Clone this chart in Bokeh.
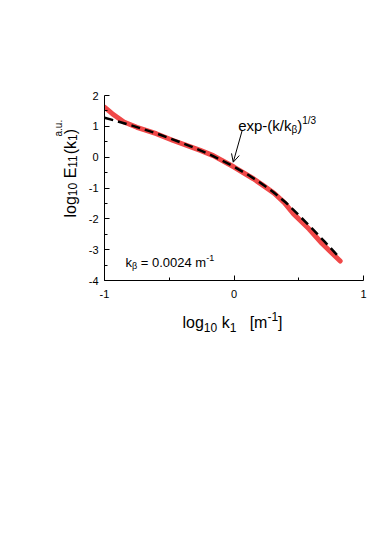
import math
from bokeh.plotting import figure
from bokeh.layouts import row, column
from bokeh.models import (Range1d, FixedTicker, Label, Arrow, OpenHead, LinearAxis,
                          PrintfTickFormatter)
from bokeh.embed import file_html
from bokeh.resources import INLINE

# ---- data ----
x_spec = [-1.0, -0.94, -0.85, -0.75, -0.6, -0.47, -0.26, -0.16, 0.0, 0.15, 0.23, 0.31, 0.39, 0.46, 0.58, 0.68, 0.82]
y_spec = [1.62, 1.41, 1.14, 0.97, 0.76, 0.54, 0.22, 0.05, -0.32, -0.70, -0.93, -1.17, -1.48, -1.84, -2.33, -2.80, -3.37]

x_fit = [-1.0, -0.9, -0.8, -0.7, -0.6, -0.5, -0.4, -0.3, -0.2, -0.1, 0.0,
         0.1, 0.2, 0.3, 0.4, 0.5, 0.6, 0.7, 0.8]
y_fit = [1.28, 1.16, 1.04, 0.91, 0.77, 0.62, 0.46, 0.29, 0.11, -0.09, -0.31,
         -0.55, -0.82, -1.12, -1.47, -1.88, -2.30, -2.74, -3.19]

x_ticks = [-1, 0, 1]
x_minor = [-0.5, 0.5]
y_ticks = [-4, -3, -2, -1, 0, 1, 2]
y_minor = [-3.5, -2.5, -1.5, -0.5, 0.5, 1.5]

arrow_start = (0.063, 0.865)
arrow_end = (-0.006, -0.163)

FONT = "Liberation Sans"
# Arial / Liberation Sans advance widths (per 1000 em)
W = {" ": 278, "(": 333, ")": 333, "-": 333, ".": 278, "/": 278, "=": 584,
     "E": 667, "[": 278, "]": 278, "a": 556, "e": 556, "g": 556, "k": 500,
     "l": 222, "m": 833, "o": 556, "p": 556, "u": 556, "x": 500, "β": 573}


def tw(s, size):
    return sum(W.get(c, 556) for c in s) * size / 1000.0


def rich(fig, x, y, parts, x0=0.0, y0=0.0, angle=0.0):
    adv = 0.0
    for part in parts:
        text, size, rise = part[0], part[1], part[2]
        if len(part) > 3:
            adv = part[3]
        stripped = text.lstrip(" ")
        adv += tw(text[:len(text) - len(stripped)], size)
        if angle == 0:
            xo, yo = x0 + adv, y0 + rise
        else:
            xo, yo = x0 - rise, y0 + adv
        fig.add_layout(Label(x=x, y=y, text=stripped, x_offset=xo, y_offset=yo, angle=angle,
                             text_font=FONT, text_font_size=f"{size}px",
                             text_baseline="alphabetic", text_align="left",
                             text_color="black"))
        adv += tw(stripped, size)


YW = 80                      # width of the y-title strip
MAIN_W, MAIN_H = 374 - YW, 310
XH = 40                      # height of the x-title strip
BL, BR = 104 - YW, 11        # main figure side borders


def blank_fig(w, h, xr, yr, bl=0, br=0):
    f = figure(width=w, height=h, output_backend="svg", toolbar_location=None,
               title=None, x_range=xr, y_range=yr,
               x_axis_location=None, y_axis_location=None,
               min_border=0, min_border_left=bl, min_border_right=br,
               min_border_top=0, min_border_bottom=0)
    f.outline_line_color = None
    f.grid.visible = False
    f.background_fill_color = "white"
    f.border_fill_color = "white"
    return f


p = figure(width=MAIN_W, height=MAIN_H, output_backend="svg", toolbar_location=None,
           title=None,
           x_range=Range1d(-1, 1), y_range=Range1d(-4, 2),
           x_axis_location=None, y_axis_location=None,
           min_border_left=BL, min_border_right=BR, min_border_top=95, min_border_bottom=30)
p.outline_line_color = None
p.xgrid.visible = False
p.ygrid.visible = False
p.background_fill_color = "white"
p.border_fill_color = "white"

xa = LinearAxis(ticker=FixedTicker(ticks=x_ticks, minor_ticks=x_minor),
                formatter=PrintfTickFormatter(format="%d"))
ya = LinearAxis(ticker=FixedTicker(ticks=y_ticks, minor_ticks=y_minor),
                formatter=PrintfTickFormatter(format="%d"))
for ax, stand in ((xa, 9), (ya, 6)):
    ax.axis_line_color = "black"
    ax.axis_line_width = 1
    ax.major_tick_in = 5
    ax.major_tick_out = 0
    ax.minor_tick_in = 3
    ax.minor_tick_out = 0
    ax.major_tick_line_color = "black"
    ax.minor_tick_line_color = "black"
    ax.major_label_text_font = FONT
    ax.major_label_text_font_size = "11px"
    ax.major_label_text_color = "black"
    ax.major_label_standoff = stand
p.add_layout(xa, "below")
p.add_layout(ya, "left")

p.line(x_spec, y_spec, line_color="#f04848", line_width=5, line_cap="round", line_join="round")
p.line(x_fit, y_fit, line_color="black", line_width=2.5, line_dash="9 5")

p.add_layout(Arrow(end=OpenHead(size=8, line_width=1, line_color="black"),
                   x_start=arrow_start[0], y_start=arrow_start[1],
                   x_end=arrow_end[0], y_end=arrow_end[1],
                   line_width=1, line_color="black"))

# annotations inside the plot
rich(p, 0.032, 1.027, [("exp-(k/k", 15, 0), ("β", 10, -4), (")", 15, 0), ("1/3", 10, 5.5)])
rich(p, -0.838, -3.417, [("k", 13, 0), ("β", 9, -3.5), (" = 0.0024 m", 13, 0), ("-1", 9, 5)])

# y-axis title strip (left): data units = page pixels
yfig = blank_fig(YW, MAIN_H + XH, Range1d(0, YW), Range1d(MAIN_H + XH, 0))
rich(yfig, 69.5, 217,
     [("log", 16, 0), ("10", 12, -2.5), (" E", 16, 0), ("11", 12, -2.5),
      ("(k", 16, 0), ("1", 12, -2.5), (")", 16, 0), ("a.u.", 10, 12, 81)],
     angle=math.pi / 2)

# x-axis title strip (below), frame aligned with the main frame: data units = page pixels
xfig = blank_fig(MAIN_W, XH, Range1d(104, 374 - BR), Range1d(MAIN_H + XH, MAIN_H), bl=BL, br=BR)
rich(xfig, 182, 321.7,
     [("log", 16, 0), ("10", 12, -5), (" k", 16, 0), ("1", 12, -5),
      ("   [m", 16, 0), ("-1", 12, 6), ("]", 16, 0)])

layout = row(yfig, column(p, xfig, spacing=0), spacing=0)

open("out.html", "w").write(file_html(layout, INLINE))
